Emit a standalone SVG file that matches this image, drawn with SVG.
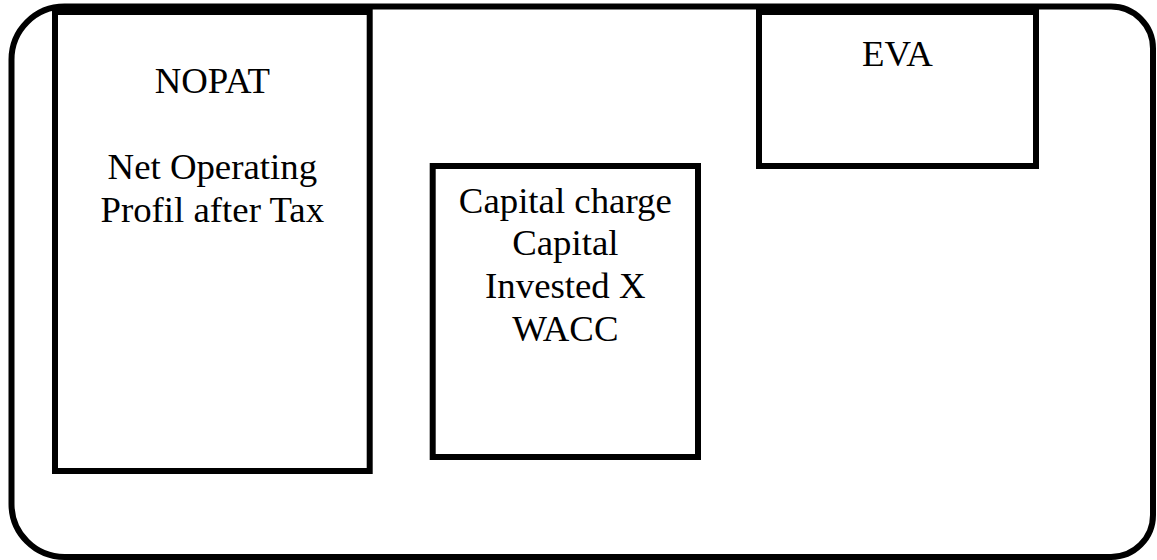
<svg xmlns="http://www.w3.org/2000/svg" width="1157" height="560" viewBox="0 0 1157 560">
<style>
.frame{fill:#fff;stroke:#000;stroke-width:6}
.box{fill:#fff;stroke:#000;stroke-width:6}
.t{font-family:"Liberation Serif","Times New Roman",serif;font-size:36.8px;fill:#000;text-anchor:middle}
</style>
<rect width="1157" height="560" fill="#fff"/>
<g id="frame">
<path class="frame" d="M64.5,6.5 H1111 A42,42 0 0 1 1153,48.5 V515 A42,42 0 0 1 1111,557 H64.5 A53,53 0 0 1 11.5,504 V59.5 A53,53 0 0 1 64.5,6.5 Z"/>
</g>
<g id="nopat">
<rect class="box" x="55" y="12" width="314.7" height="459"/>
<text class="t" x="212.3" y="93.3">NOPAT</text>
<text class="t" x="212.3" y="178.5">Net Operating</text>
<text class="t" x="212.3" y="221.5">Profil after Tax</text>
</g>
<g id="capital">
<rect class="box" x="432.7" y="166" width="265.3" height="291"/>
<text class="t" x="565.3" y="212.7">Capital charge</text>
<text class="t" x="565.3" y="255.3">Capital</text>
<text class="t" x="565.3" y="298.3">Invested X</text>
<text class="t" x="565.3" y="341">WACC</text>
</g>
<g id="eva">
<rect class="box" x="759" y="12" width="277" height="154"/>
<text class="t" x="897.5" y="66">EVA</text>
</g>
<g id="connectors"></g>
</svg>
